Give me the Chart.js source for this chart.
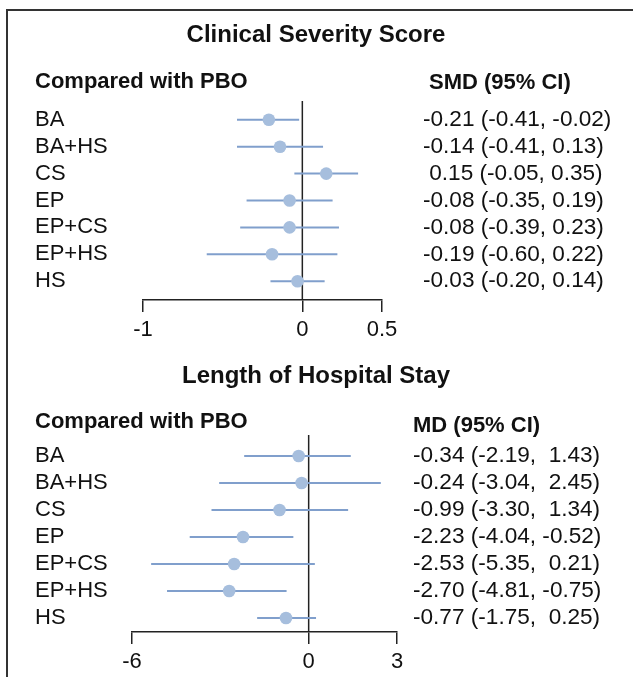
<!DOCTYPE html>
<html>
<head>
<meta charset="utf-8">
<script src="https://cdn.jsdelivr.net/npm/chart.js@4.4.1/dist/chart.umd.min.js"></script>
<style>
  html, body { margin: 0; padding: 0; background: #fff; }
  #wrap { position: relative; width: 633px; height: 677px; overflow: hidden; background: #fff; }
  #frame { position: absolute; left: 6px; top: 9px; width: 700px; height: 700px;
           border-top: 2px solid #333; border-left: 2px solid #333; }
  canvas { position: absolute; left: 0; }
  #c1 { top: 0; }
  #c2 { top: 345px; }
</style>
</head>
<body>
<div id="wrap">
  <div id="frame"></div>
  <canvas id="c1" width="633" height="345"></canvas>
  <canvas id="c2" width="633" height="332"></canvas>
</div>
<script>
// ---- data ----
const treatments = ["BA", "BA+HS", "CS", "EP", "EP+CS", "EP+HS", "HS"];

const smdEst = [-0.21, -0.14, 0.15, -0.08, -0.08, -0.19, -0.03];
const smdLow = [-0.41, -0.41, -0.05, -0.35, -0.39, -0.60, -0.20];
const smdHigh = [-0.02, 0.13, 0.35, 0.19, 0.23, 0.22, 0.14];
const smdTicks = [-1, 0, 0.5];

const mdEst = [-0.34, -0.24, -0.99, -2.23, -2.53, -2.70, -0.77];
const mdLow = [-2.19, -3.04, -3.30, -4.04, -5.35, -4.81, -1.75];
const mdHigh = [1.43, 2.45, 1.34, -0.52, 0.21, -0.75, 0.25];
const mdTicks = [-6, 0, 3];

const panelTitles = ["Clinical Severity Score", "Length of Hospital Stay"];
const leftHeader = "Compared with PBO";
const rightHeaders = ["SMD (95% CI)", "MD (95% CI)"];

// ---- helpers ----
const FONT = "'Liberation Sans', Arial, Helvetica, sans-serif";
const TXT = "#111";
const DOT = "#a6bedd";
const BAR = "#809fcc";

function fmt(v, pad) {
  const s = v.toFixed(2);
  return (pad && v >= 0) ? " " + s : s;
}
function ciLabels(est, lo, hi, padHi) {
  return est.map((e, i) => fmt(e, true) + " (" + fmt(lo[i], false) + ", " + fmt(hi[i], padHi) + ")");
}

function noPad(axis) {
  axis.paddingTop = 0; axis.paddingBottom = 0;
  axis.paddingLeft = 0; axis.paddingRight = 0;
}

function makePanel(canvasId, cfg) {
  const datasets = [];
  cfg.est.forEach((e, i) => {
    datasets.push({
      type: "scatter",
      showLine: true,
      data: [{ x: cfg.lo[i], y: i }, { x: cfg.hi[i], y: i }],
      borderColor: BAR,
      borderWidth: 2,
      pointRadius: 0,
      pointHoverRadius: 0,
      order: 2
    });
  });
  datasets.push({
    type: "scatter",
    data: cfg.est.map((e, i) => ({ x: e, y: i })),
    backgroundColor: DOT,
    borderColor: DOT,
    borderWidth: 0,
    pointRadius: 6.3,
    order: 1
  });

  const textPlugin = {
    id: "panelText",
    beforeDatasetsDraw(chart) {
      const ctx = chart.ctx;
      const xs = chart.scales.x;
      const a = chart.chartArea;
      const x0 = xs.getPixelForValue(0);
      ctx.save();
      ctx.strokeStyle = "#222";
      ctx.lineWidth = 1.5;
      ctx.beginPath();
      ctx.moveTo(x0, a.top);
      ctx.lineTo(x0, a.bottom);
      ctx.stroke();
      ctx.restore();
    },
    afterDraw(chart) {
      const ctx = chart.ctx;
      ctx.save();
      ctx.fillStyle = TXT;
      ctx.textBaseline = "middle";
      ctx.font = "bold 24px " + FONT;
      ctx.textAlign = "center";
      ctx.fillText(cfg.title, 316, cfg.titleY);
      ctx.font = "bold 22px " + FONT;
      ctx.textAlign = "left";
      ctx.fillText(leftHeader, 35, cfg.headY);
      ctx.fillText(cfg.rightHeader, cfg.rightHeadX, cfg.headY + cfg.rightHeadDy);
      ctx.restore();
    }
  };

  const rowTicks = (axis) => { axis.ticks = treatments.map((_, i) => ({ value: i })); };
  const tickFont = { family: FONT, size: 22 };
  const ciFont = { family: FONT, size: 22.6 };

  return new Chart(document.getElementById(canvasId), {
    type: "scatter",
    data: { datasets },
    plugins: [textPlugin],
    options: {
      responsive: false,
      animation: false,
      events: [],
      layout: { padding: { left: 35, top: cfg.padTop, right: 0, bottom: 0 } },
      plugins: { legend: { display: false }, tooltip: { enabled: false }, title: { display: false } },
      scales: {
        x: {
          type: "linear",
          position: "bottom",
          min: cfg.xTicks[0],
          max: cfg.xTicks[cfg.xTicks.length - 1],
          afterBuildTicks: (axis) => { axis.ticks = cfg.xTicks.map(v => ({ value: v })); },
          afterFit: (axis) => { axis.height = 45; noPad(axis); },
          grid: { drawOnChartArea: false, drawTicks: true, tickLength: 12, color: "#222", lineWidth: 1.5 },
          border: { display: true, color: "#222", width: 1.5 },
          ticks: { font: tickFont, color: TXT, padding: 5, maxRotation: 0, autoSkip: false }
        },
        y: {
          type: "linear",
          position: "left",
          reverse: true,
          min: cfg.yMin,
          max: cfg.yMax,
          afterBuildTicks: rowTicks,
          afterFit: (axis) => { axis.width = cfg.leftW; noPad(axis); },
          grid: { display: false },
          border: { display: false },
          ticks: { font: tickFont, color: TXT, crossAlign: "far", padding: 0, autoSkip: false,
                   callback: (v) => treatments[v] }
        },
        y2: {
          type: "linear",
          position: "right",
          reverse: true,
          min: cfg.yMin,
          max: cfg.yMax,
          afterBuildTicks: rowTicks,
          afterFit: (axis) => { axis.width = cfg.rightW; noPad(axis); },
          grid: { display: false, drawTicks: false },
          border: { display: false },
          ticks: { font: ciFont, color: TXT, crossAlign: "near", padding: cfg.ciPad, autoSkip: false,
                   callback: (v) => cfg.ci[v] }
        }
      }
    }
  });
}

makePanel("c1", {
  est: smdEst, lo: smdLow, hi: smdHigh, xTicks: smdTicks,
  ci: ciLabels(smdEst, smdLow, smdHigh, false),
  title: panelTitles[0], rightHeader: rightHeaders[0],
  titleY: 35, headY: 82, rightHeadX: 429, rightHeadDy: 1,
  padTop: 101, yMin: -0.7, yMax: 6.7,
  leftW: 108, rightW: 251, ciPad: 41
});

makePanel("c2", {
  est: mdEst, lo: mdLow, hi: mdHigh, xTicks: mdTicks,
  ci: ciLabels(mdEst, mdLow, mdHigh, true),
  title: panelTitles[1], rightHeader: rightHeaders[1],
  titleY: 31, headY: 77, rightHeadX: 413, rightHeadDy: 4,
  padTop: 90, yMin: -0.78, yMax: 6.52,
  leftW: 97, rightW: 236, ciPad: 16
});
</script>
</body>
</html>
